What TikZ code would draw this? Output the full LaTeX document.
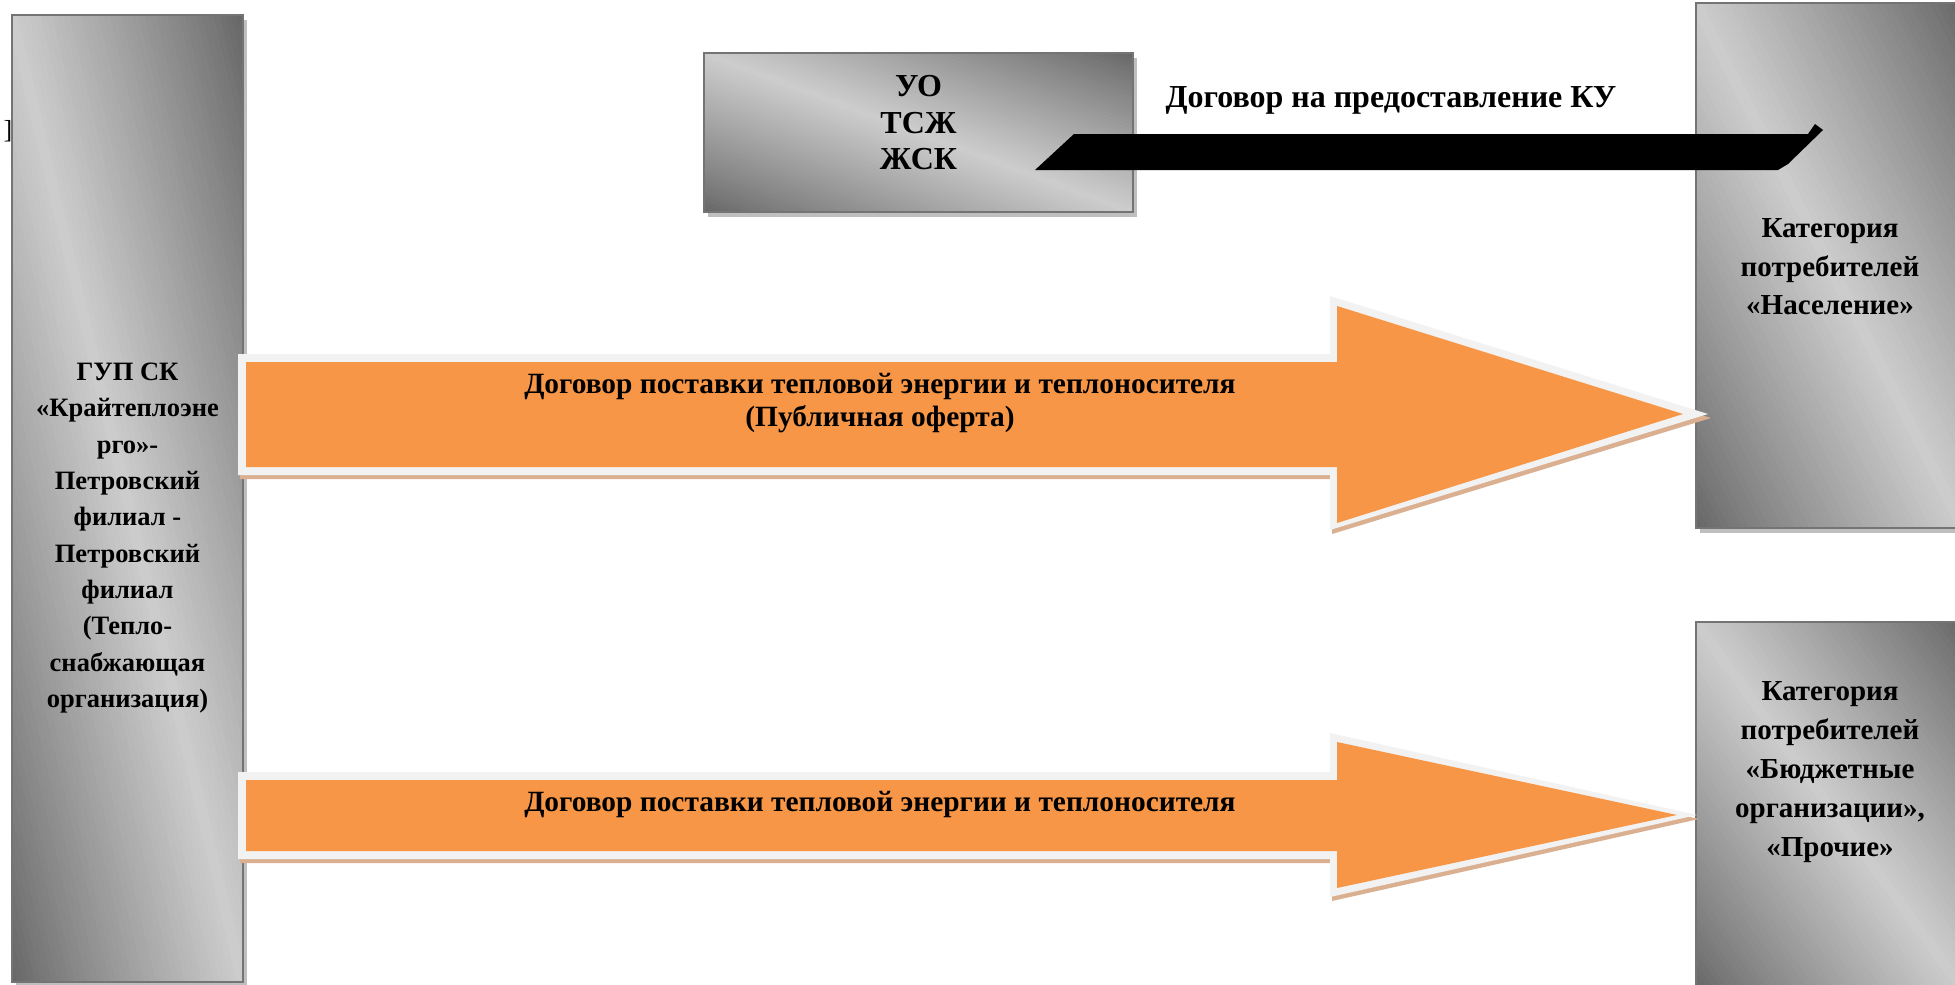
\documentclass[tikz,border=0pt]{standalone}
\usepackage{fontspec}
\setmainfont{Liberation Serif}
\definecolor{dk}{HTML}{666666}
\definecolor{lt}{HTML}{CDCDCD}
\definecolor{edgec}{HTML}{747474}
\definecolor{shd}{HTML}{BFBFBF}
\definecolor{org}{HTML}{F79646}
\definecolor{orgedge}{HTML}{F2F2F2}
\definecolor{tan}{HTML}{DAB091}
\tikzset{
  gboxedge/.style={rectangle, draw=edgec, line width=2pt, inner sep=0pt},
  gshadow/.style={fill=shd},
  txt/.style={align=center, inner sep=0pt, text=black},
  barrow/.style={fill=org},
  barrowedge/.style={fill=orgedge},
  barrowshd/.style={fill=tan},
}
% box with diagonal grey gradient: dark at top-right and bottom-left, light along the TL-BR diagonal
\newcommand\mygradbox[5]{%
  \fill[gshadow] ({#2+4},{#3+5}) rectangle ({#4+4},{#5+5});
  \begin{scope}
    \clip (#2,#3) rectangle (#4,#5);
    \foreach \k in {0,...,79}{%
      \pgfmathsetmacro\ca{\k/40}%
      \pgfmathsetmacro\cb{(\k+1)/40}%
      \pgfmathsetmacro\ff{100*(1-abs((\k+0.5)/40-1))^0.9}%
      \fill[lt!\ff!dk, draw=lt!\ff!dk, line width=0.8pt]
        ({#2+\ca*(#4-#2)},#5) -- ({#2+\cb*(#4-#2)},#5)
        -- ({#2+(\cb-1)*(#4-#2)},#3) -- ({#2+(\ca-1)*(#4-#2)},#3) -- cycle;
    }
  \end{scope}
  \pgfmathsetmacro\bw{#4-#2}%
  \pgfmathsetmacro\bh{#5-#3}%
  \node[gboxedge, minimum width=\bw pt, minimum height=\bh pt] (#1) at ({(#2+#4)/2},{(#3+#5)/2}) {};
}
\begin{document}
\begin{tikzpicture}[x=1pt,y=-1pt,font=\bfseries\fontsize{29.4}{34}\selectfont]
\clip (0,0) rectangle (1955,985);
\fill[white] (0,0) rectangle (1955,985);

% stray glyph fragment behind left box
\node[txt, font=\fontsize{26}{26}\selectfont] (frag) at (8,131) {]};

% boxes
\mygradbox{gup}{12}{15}{243}{982}
\mygradbox{uo}{704}{53}{1133}{212}
\mygradbox{nas}{1696}{3}{1964}{528}
\mygradbox{bud}{1696}{622}{1964}{990}

% box texts
\node[txt, font=\bfseries\fontsize{26.5}{36.3}\selectfont] (gupT) at (127.5,538)
 {ГУП СК\\«Крайтеплоэне\\рго»-\\Петровский\\филиал -\\Петровский\\филиал\\(Тепло-\\снабжающая\\организация)};
\node[txt, font=\bfseries\fontsize{32}{36.5}\selectfont] (uoT) at (918.5,123) {УО\\ТСЖ\\ЖСК};
\node[txt, font=\bfseries\fontsize{29}{38.5}\selectfont] (nasT) at (1830,267) {Категория\\потребителей\\«Население»};
\node[txt, font=\bfseries\fontsize{29}{39}\selectfont] (budT) at (1830,772.5) {Категория\\потребителей\\«Бюджетные\\организации»,\\«Прочие»};

% black arrow (Договор на предоставление КУ)
\fill[black] (1035,170) -- (1074,134) -- (1808,134) -- (1815,124) -- (1823,130)
  -- (1788,164) -- (1778,170) -- cycle;
\node[txt, font=\bfseries\fontsize{32}{34}\selectfont] (kuT) at (1391,100) {Договор на предоставление КУ};

% orange arrow 1
\fill[barrowshd] (240,359) -- (1332,359) -- (1332,301) -- (1711,418) -- (1332,534) -- (1332,479) -- (240,479) -- cycle;
\fill[barrowedge] (238,354) -- (1330,354) -- (1330,296) -- (1708,414) -- (1330,530) -- (1330,475) -- (238,475) -- cycle;
\fill[barrow] (246,362) -- (1337,362) -- (1337,306) -- (1683,414) -- (1337,523) -- (1337,467) -- (246,467) -- cycle;
\node[txt, font=\bfseries\fontsize{29.4}{33}\selectfont] (a1T) at (880,403)
 {Договор поставки тепловой энергии и теплоносителя\\(Публичная оферта)};

% orange arrow 2
\fill[barrowshd] (240,777) -- (1332,777) -- (1332,738) -- (1699,819) -- (1332,901) -- (1332,863) -- (240,863) -- cycle;
\fill[barrowedge] (238,772) -- (1330,772) -- (1330,733) -- (1697,815) -- (1330,897) -- (1330,859) -- (238,859) -- cycle;
\fill[barrow] (246,780) -- (1337,780) -- (1337,742) -- (1677,815) -- (1337,888) -- (1337,851) -- (246,851) -- cycle;
\node[txt] (a2T) at (880,804.5) {Договор поставки тепловой энергии и теплоносителя};
\end{tikzpicture}
\end{document}
